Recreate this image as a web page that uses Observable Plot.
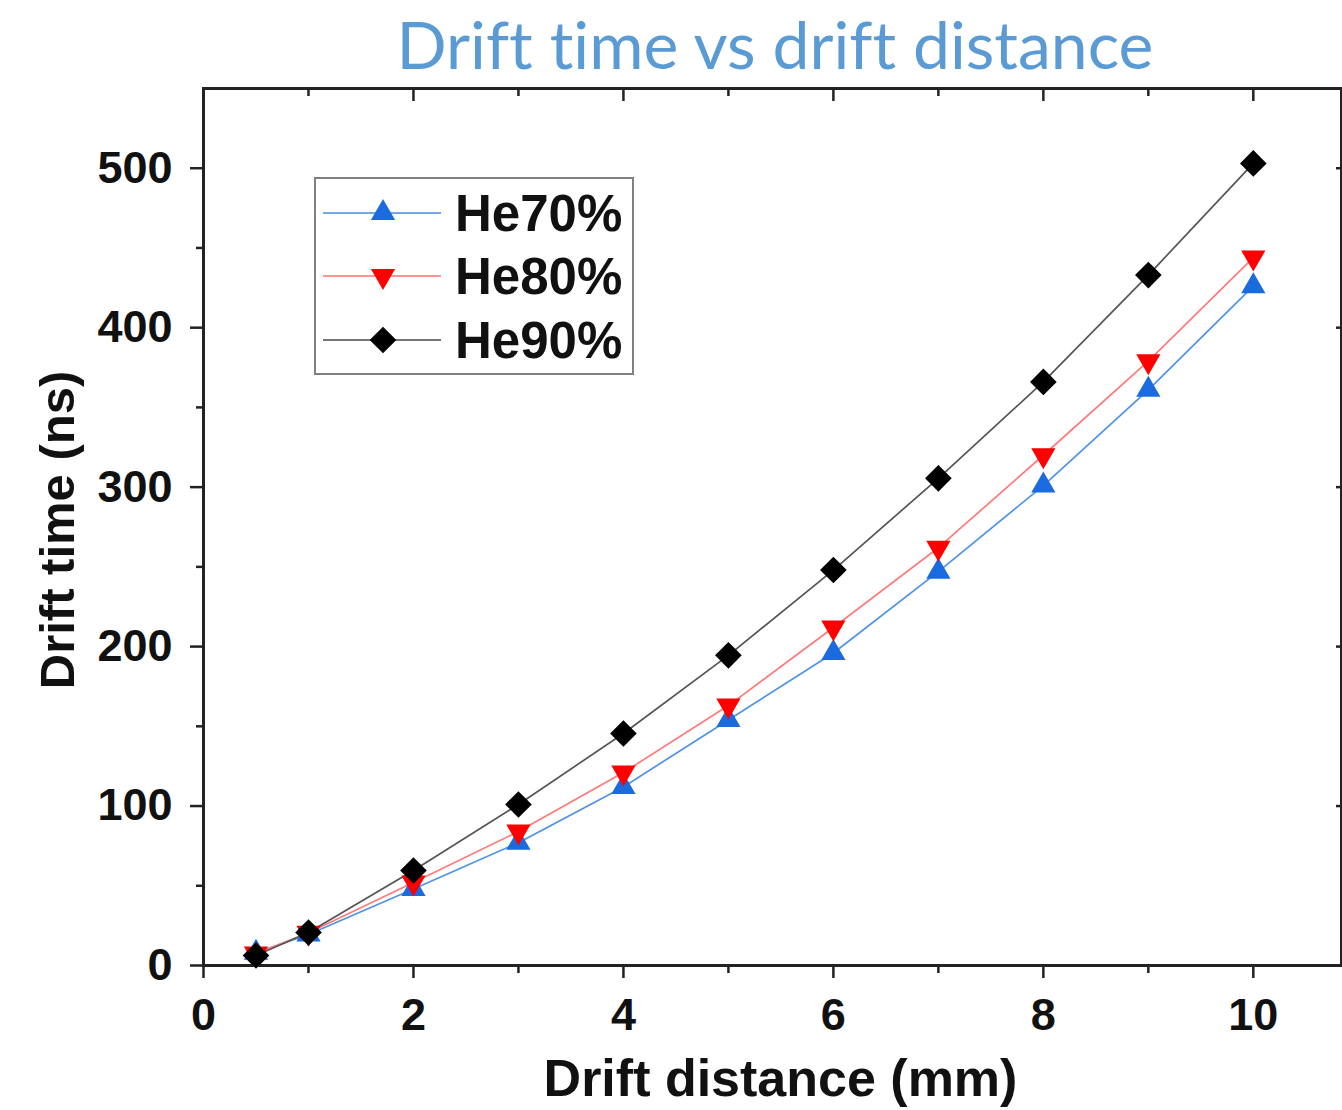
<!DOCTYPE html>
<html>
<head>
<meta charset="utf-8">
<script src="https://cdn.jsdelivr.net/npm/d3@7"></script>
<script src="https://cdn.jsdelivr.net/npm/@observablehq/plot@0.6"></script>
<style>
  html, body { margin: 0; padding: 0; background: #fff; }
  #wrap { position: relative; width: 1342px; height: 1110px; overflow: hidden; }
  #wrap svg { display: block; }
  #chartbox { position: absolute; left: 0; top: 80px; }
  #title { position: absolute; left: 0; top: 0; overflow: visible; }
  #legend { position: absolute; left: 314px; top: 177px; }
</style>
</head>
<body>
<div id="wrap"><div id="chartbox"></div></div>
<script>
// ---- Data ----
const titleText = "Drift time vs drift distance";
const xLabel = "Drift distance (mm)";
const yLabel = "Drift time (ns)";
const seriesNames = ["He70%", "He80%", "He90%"];
const distance = [0.5, 1, 2, 3, 4, 5, 6, 7, 8, 9, 10];
const he70 = [8, 19.5, 48, 77, 112, 154, 196, 247, 301, 361, 426];
const he80 = [7.5, 20.5, 52, 84, 121, 163, 212, 262, 320, 379, 444];
const he90 = [6.3, 20.7, 59.6, 101, 145.5, 194.5, 248, 305.5, 366, 433, 503];
const xMajor = [0, 2, 4, 6, 8, 10];
const xMinor = [1, 3, 5, 7, 9];
const yMajor = [0, 100, 200, 300, 400, 500];
const yMinor = [50, 150, 250, 350, 450];

// ---- Styles ----
const lineColors = {"He70%": "#4f93e6", "He80%": "#ff7a7a", "He90%": "#555555"};
const markColors = {"He70%": "#1a6be0", "He80%": "#ff0000", "He90%": "#000000"};

const triangleDown = {
  draw(ctx, size) {
    const y = -Math.sqrt(size / (Math.sqrt(3) * 3));
    ctx.moveTo(0, -2 * y);
    ctx.lineTo(Math.sqrt(3) * y, y);
    ctx.lineTo(-Math.sqrt(3) * y, y);
    ctx.closePath();
  }
};
const symbols = {"He70%": "triangle", "He80%": triangleDown, "He90%": "diamond2"};
const radii = {"He70%": 9, "He80%": 9, "He90%": 12};

const values = {"He70%": he70, "He80%": he80, "He90%": he90};
const rows = seriesNames.flatMap(s => distance.map((d, i) => ({series: s, distance: d, time: values[s][i]})));

const W = 1342, H = 1030, mT = 8, mL = 203, mR = 1, mB = 145;
const frameW = W - mL - mR, frameH = H - mT - mB;
const font = "'Liberation Sans', Arial, Helvetica, sans-serif";
const axisColor = "#222";

const wrap = document.getElementById("wrap");

const chart = Plot.plot({
  width: W, height: H,
  marginTop: mT, marginLeft: mL, marginRight: mR, marginBottom: mB,
  x: {domain: [0, 10.84]},
  y: {domain: [0, 550]},
  style: {fontFamily: font, color: "#111", background: "white", overflow: "visible"},
  marks: [
    Plot.axisX({ticks: xMajor, tickSize: 13, tickPadding: 20, fontSize: 45, fontWeight: "bold", strokeWidth: 2.5, stroke: axisColor, fill: "#111", label: null, tickFormat: d => String(d)}),
    Plot.axisX({ticks: xMinor, tickSize: 8, strokeWidth: 2.5, stroke: axisColor, label: null, tickFormat: () => ""}),
    Plot.axisY({ticks: yMajor, tickSize: 13, tickPadding: 18, fontSize: 45, fontWeight: "bold", strokeWidth: 2.5, stroke: axisColor, fill: "#111", label: null, tickFormat: d => String(d)}),
    Plot.axisY({ticks: yMinor, tickSize: 7, strokeWidth: 2.5, stroke: axisColor, label: null, tickFormat: () => ""}),
    // inward ticks on top edge
    Plot.tickX(xMajor.slice(1), {x: d => d, insetBottom: frameH - 13, stroke: axisColor, strokeWidth: 2.5}),
    Plot.tickX(xMinor, {x: d => d, insetBottom: frameH - 8, stroke: axisColor, strokeWidth: 2.5}),
    // inward ticks on right edge
    Plot.tickY(yMajor.slice(1), {y: d => d, insetLeft: frameW - 5, stroke: axisColor, strokeWidth: 2.5}),
    Plot.frame({stroke: axisColor, strokeWidth: 3}),
    Plot.line(rows, {x: "distance", y: "time", z: "series", stroke: d => lineColors[d.series], strokeWidth: 1.7}),
    ...seriesNames.map(s => Plot.dot(rows.filter(r => r.series === s), {
      x: "distance", y: "time", symbol: symbols[s], r: radii[s], fill: markColors[s], stroke: "none"
    })),
    Plot.text([xLabel], {frameAnchor: "bottom", textAnchor: "middle", dx: 8, dy: 114, fontSize: 52, fontWeight: "bold", fill: "#111", lineAnchor: "middle"}),
    Plot.text([yLabel], {frameAnchor: "left", textAnchor: "middle", dx: -145, dy: 3, rotate: -90, fontSize: 49, fontWeight: "bold", fill: "#111", lineAnchor: "middle"})
  ]
});
document.getElementById("chartbox").appendChild(chart);

// Title (above the chart)
const tsvg = d3.create("svg").attr("id", "title").attr("width", W).attr("height", 90);
tsvg.append("text")
  .attr("x", 775).attr("y", 69)
  .attr("text-anchor", "middle")
  .attr("font-family", "Lato, 'Open Sans', sans-serif")
  .attr("font-size", 66)
  .attr("fill", "#5b9bd5")
  .style("font-variant-ligatures", "none")
  .style("font-feature-settings", "'liga' 0, 'clig' 0")
  .text(titleText);
wrap.appendChild(tsvg.node());

// Legend box overlay
const lg = d3.create("svg").attr("id", "legend").attr("width", 320).attr("height", 198);
lg.append("rect").attr("x", 1).attr("y", 1).attr("width", 318).attr("height", 196)
  .attr("fill", "white").attr("stroke", "#808080").attr("stroke-width", 2);
const rowY = [36, 99, 163];
const symTypes = {"He70%": d3.symbolTriangle, "He80%": triangleDown, "He90%": d3.symbolDiamond2};
seriesNames.forEach((s, i) => {
  const g = lg.append("g").attr("transform", `translate(0,${rowY[i]})`);
  g.append("line").attr("x1", 9).attr("x2", 127).attr("y1", 0).attr("y2", 0)
    .attr("stroke", lineColors[s]).attr("stroke-width", 2.2).attr("opacity", 0.8);
  const size = Math.PI * radii[s] * radii[s];
  g.append("path").attr("transform", "translate(69,0)")
    .attr("d", d3.symbol(symTypes[s], size)()).attr("fill", markColors[s]);
  g.append("text").attr("x", 141).attr("y", 0).attr("dy", "0.36em")
    .attr("font-family", font).attr("font-weight", "bold").attr("font-size", 51)
    .attr("fill", "#111").text(s);
});
wrap.appendChild(lg.node());
</script>
</body>
</html>
